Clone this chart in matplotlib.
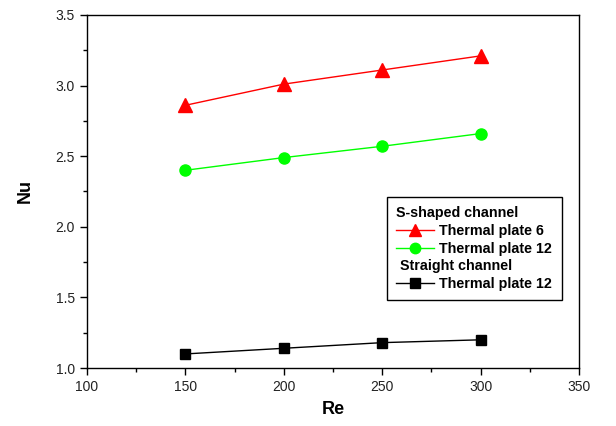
import matplotlib.pyplot as plt
from matplotlib.lines import Line2D
from matplotlib.ticker import MultipleLocator

plt.rcParams['font.family'] = ['Liberation Sans', 'DejaVu Sans']

re_vals = [150, 200, 250, 300]
nu_s_plate6 = [2.86, 3.01, 3.11, 3.21]
nu_s_plate12 = [2.40, 2.49, 2.57, 2.66]
nu_straight12 = [1.10, 1.14, 1.18, 1.20]

fig = plt.figure(figsize=(6.16, 4.26), dpi=100)
ax = fig.add_axes([0.141, 0.136, 0.799, 0.829])

ax.plot(re_vals, nu_s_plate6, color='#ff0000', lw=1, marker='^', ms=9.5, mec='#ff0000')
ax.plot(re_vals, nu_s_plate12, color='#00ff00', lw=1, marker='o', ms=8, mec='#00ff00')
ax.plot(re_vals, nu_straight12, color='black', lw=1, marker='s', ms=7.5)

ax.set_xlim(100, 350)
ax.set_ylim(1.0, 3.5)
ax.xaxis.set_major_locator(MultipleLocator(50))
ax.xaxis.set_minor_locator(MultipleLocator(25))
ax.yaxis.set_major_locator(MultipleLocator(0.5))
ax.yaxis.set_minor_locator(MultipleLocator(0.25))
ax.yaxis.set_major_formatter(plt.FormatStrFormatter('%.1f'))
ax.tick_params(which='major', direction='out', length=5, width=1, labelsize=10,
               labelcolor='#222222')
ax.tick_params(which='minor', direction='out', length=3, width=1)
for s in ax.spines.values():
    s.set_linewidth(1)

ax.set_xlabel('Re', fontsize=13, fontweight='bold', labelpad=5)
ax.set_ylabel('Nu', fontsize=13, fontweight='bold', labelpad=16)

fs = 10.3
blank = Line2D([], [], color='none')
handles = [
    blank,
    Line2D([], [], color='#ff0000', lw=1, marker='^', ms=9, mec='#ff0000'),
    Line2D([], [], color='#00ff00', lw=1, marker='o', ms=7.5, mec='#00ff00'),
    blank,
    Line2D([], [], color='black', lw=1, marker='s', ms=7),
]
labels = [' ', 'Thermal plate 6', 'Thermal plate 12', ' ', 'Thermal plate 12']
hl, hp = 2.66, 0.35
leg = ax.legend(handles, labels, loc='upper left', bbox_to_anchor=(0.61, 0.484),
                borderaxespad=0, frameon=True, fancybox=False, framealpha=1,
                edgecolor='black', prop={'weight': 'bold', 'size': fs},
                handlelength=hl, handletextpad=hp, labelspacing=0.25,
                borderpad=0.65)
leg.get_frame().set_linewidth(1)

fig.canvas.draw()
texts = leg.get_texts()
r = fig.canvas.get_renderer()
ref = texts[1].get_window_extent(r)
shift = (hl + hp) * fs * fig.dpi / 72
for i, name, dx in [(0, 'S-shaped channel', 0), (3, 'Straight channel', 4)]:
    bb = texts[i].get_window_extent(r)
    fig.text((ref.x0 - shift + dx) / fig.bbox.width, (bb.y0 + bb.y1) / 2 / fig.bbox.height,
             name, fontsize=fs, fontweight='bold', va='center', ha='left')

fig.savefig('out.png', dpi=100)
